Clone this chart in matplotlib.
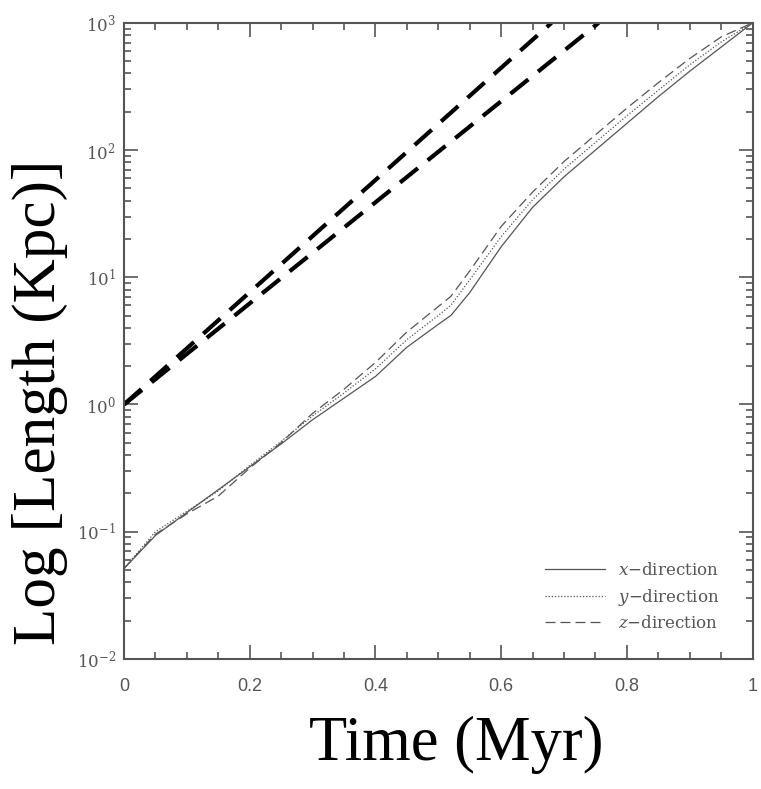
import numpy as np
import matplotlib
matplotlib.use("Agg")
import matplotlib.pyplot as plt
from matplotlib.ticker import MultipleLocator, LogLocator, NullFormatter

# -----------------------------
# Data
# -----------------------------
t = [0, 0.05, 0.1, 0.15, 0.2, 0.25, 0.3, 0.35, 0.4, 0.45, 0.5, 0.52,
     0.55, 0.6, 0.65, 0.7, 0.75, 0.8, 0.85, 0.9, 0.95, 1.0]

# log10 of length in kpc
log_x = [-1.29, -1.03, -0.85, -0.67, -0.49, -0.31, -0.12, 0.05, 0.22, 0.45, 0.63, 0.70,
         0.88, 1.24, 1.55, 1.79, 2.00, 2.21, 2.42, 2.62, 2.81, 3.00]
log_y = [-1.29, -1.00, -0.84, -0.68, -0.48, -0.29, -0.09, 0.09, 0.28, 0.51, 0.70, 0.78,
         0.98, 1.32, 1.61, 1.85, 2.06, 2.27, 2.47, 2.67, 2.85, 3.00]
log_z = [-1.29, -1.02, -0.86, -0.72, -0.50, -0.30, -0.07, 0.12, 0.33, 0.57, 0.77, 0.85,
         1.05, 1.40, 1.67, 1.91, 2.12, 2.33, 2.53, 2.72, 2.89, 3.00]

# two thick reference lines (start, end)
ref1_t = [0, 0.68]
ref1_L = [1, 1000]
ref2_t = [0, 0.755]
ref2_L = [1, 1000]

labels = ["$x$\u2212direction", "$y$\u2212direction", "$z$\u2212direction"]
xticks = [0, 0.2, 0.4, 0.6, 0.8, 1.0]
xtick_labels = ["0", "0.2", "0.4", "0.6", "0.8", "1"]

# -----------------------------
# Figure
# -----------------------------
plt.rcParams["mathtext.fontset"] = "dejavuserif"
grey = "#555555"

fig = plt.figure(figsize=(7.61, 7.89), dpi=100)
ax = fig.add_axes([0.163, 0.165, 0.826, 0.806])

ax.plot(t, 10 ** np.array(log_x), color=grey, lw=0.9, ls="-", label=labels[0])
ax.plot(t, 10 ** np.array(log_y), color=grey, lw=0.9, ls=(0, (1, 1.5)), label=labels[1])
ax.plot(t, 10 ** np.array(log_z), color=grey, lw=0.9, ls=(0, (8, 4)), label=labels[2])

ax.plot(ref1_t, ref1_L, color="black", lw=3, ls=(0, (5.5, 3)))
ax.plot(ref2_t, ref2_L, color="black", lw=3, ls=(0, (5.5, 3)))

ax.set_yscale("log")
ax.set_xlim(0, 1)
ax.set_ylim(1e-2, 1e3)

ax.set_xticks(xticks, xtick_labels)
ax.xaxis.set_minor_locator(MultipleLocator(0.05))
ax.yaxis.set_major_locator(LogLocator(base=10, numticks=10))
ax.yaxis.set_minor_locator(LogLocator(base=10, subs=np.arange(2, 10), numticks=20))
ax.yaxis.set_minor_formatter(NullFormatter())

ax.tick_params(which="both", direction="in", top=True, right=True, colors=grey,
               labelcolor=grey, width=1.2)
ax.tick_params(which="major", length=10, labelsize=12)
ax.tick_params(which="minor", length=5)
ax.tick_params(axis="x", which="major", pad=14, labelsize=13)
ax.tick_params(axis="y", which="major", pad=6)
for lab in ax.get_xticklabels():
    lab.set_family("Liberation Sans")
for lab in ax.get_yticklabels():
    lab.set_family("DejaVu Serif")
for sp in ax.spines.values():
    sp.set_color(grey)
    sp.set_linewidth(1.5)

leg = ax.legend(loc="lower right", frameon=False, handlelength=3.6,
                labelspacing=0.45, borderaxespad=1.2, bbox_to_anchor=(0.99, 0.0),
                prop={"family": "DejaVu Serif", "size": 12})
for txt in leg.get_texts():
    txt.set_color(grey)

fig.text(0.052, 0.49, "Log [Length (Kpc)]", rotation=90, ha="center", va="center",
         family="Liberation Serif", fontsize=44, color="black")
fig.text(0.6, 0.056, "Time (Myr)", ha="center", va="center",
         family="Liberation Serif", fontsize=45, color="black")

plt.savefig("out.png", dpi=100)
